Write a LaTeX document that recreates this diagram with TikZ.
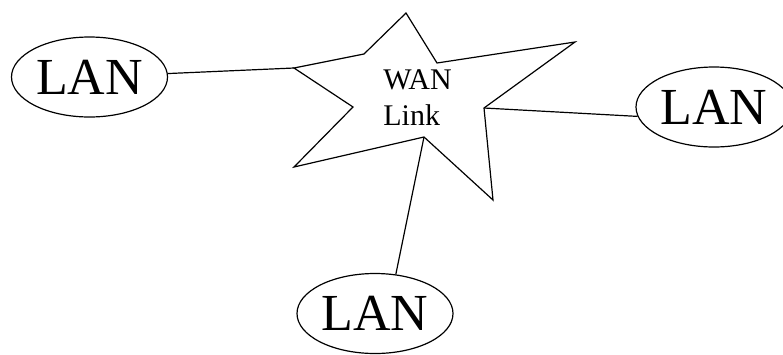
\documentclass[tikz,border=0pt]{standalone}
\usepackage{fontspec}
\setmainfont{Liberation Serif}
\usetikzlibrary{shapes.geometric}
\begin{document}
\begin{tikzpicture}[x=1pt,y=-1pt,line width=1.2pt,
  lan/.style={draw,ellipse,inner sep=0pt,minimum width=156pt,minimum height=80pt,
    font=\fontsize{52}{60}\selectfont},
  wan/.style={align=left,inner sep=0pt,font=\fontsize{30}{36.7}\selectfont}]
\useasboundingbox (0,0) rectangle (783,354);
% star vertices
\coordinate (s1) at (406,13);
\coordinate (s2) at (437,63);
\coordinate (s3) at (575,42);
\coordinate (s4) at (484,108);
\coordinate (s5) at (493,200);
\coordinate (s6) at (424,137);
\coordinate (s7) at (294,167);
\coordinate (s8) at (353,107);
\coordinate (s9) at (294,68);
\coordinate (s10) at (364,54);
\draw[line join=miter] (s1) -- (s2) -- (s3) -- (s4) -- (s5) -- (s6) -- (s7) -- (s8) -- (s9) -- (s10) -- cycle;
\node[wan] (wan) at (417.5,97.7) {WAN\\Link};
% LANs
\node[lan] (lan1) at (89.5,77) {LAN};
\node[lan] (lan2) at (714,107) {LAN};
\node[lan] (lan3) at (375,313.5) {LAN};
% connectors
\draw (lan1) -- (s9);
\draw (s4) -- (lan2.187);
\draw (s6) -- (lan3.62);
\end{tikzpicture}
\end{document}
